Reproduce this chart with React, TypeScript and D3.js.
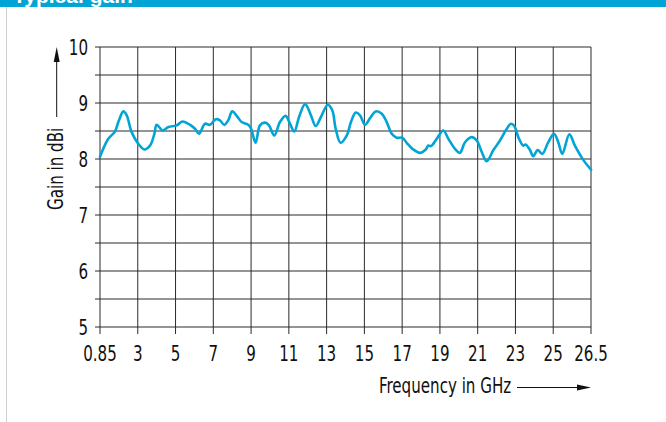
import React from 'react';
import * as d3 from 'd3';

// axis ticks (x ticks are evenly spaced on the chart, not linear in GHz)
const xTicks = [0.85, 3, 5, 7, 9, 11, 13, 15, 17, 19, 21, 23, 25, 26.5];
const yTicks = [5, 6, 7, 8, 9, 10];
const yGrid = [5, 5.5, 6, 6.5, 7, 7.5, 8, 8.5, 9, 9.5, 10];

// gain curve
const freq = [
  0.85, 1.32, 1.7, 1.93, 2.18, 2.37, 2.65, 3.03, 3.35, 3.65, 3.88, 4.0, 4.32, 4.62, 5.06, 5.36,
  5.77, 6.03, 6.24, 6.56, 6.82, 7.13, 7.35, 7.58, 7.79, 8.0, 8.24, 8.5, 8.85, 9.0, 9.24, 9.47,
  9.74, 9.95, 10.23, 10.53, 10.83, 11.06, 11.29, 11.54, 11.86, 12.17, 12.42, 12.7, 13.06, 13.3,
  13.48, 13.74, 14.07, 14.29, 14.54, 14.77, 15.03, 15.3, 15.6, 15.92, 16.18, 16.45, 16.71, 17.01,
  17.24, 17.59, 17.95, 18.25, 18.39, 18.53, 18.83, 19.18, 19.45, 19.8, 20.06, 20.33, 20.68, 20.95,
  21.21, 21.48, 21.83, 22.18, 22.54, 22.76, 22.94, 23.15, 23.41, 23.54, 23.77, 23.94, 24.18,
  24.42, 24.74, 25.03, 25.2, 25.36, 25.64, 25.86, 26.2, 26.5,
];
const gain = [
  8.04, 8.36, 8.49, 8.69, 8.85, 8.78, 8.48, 8.27, 8.17, 8.24, 8.45, 8.61, 8.51, 8.57, 8.6, 8.67,
  8.61, 8.54, 8.45, 8.63, 8.61, 8.71, 8.69, 8.61, 8.69, 8.85, 8.77, 8.66, 8.61, 8.54, 8.29, 8.6,
  8.65, 8.6, 8.42, 8.66, 8.77, 8.63, 8.49, 8.75, 8.98, 8.78, 8.59, 8.75, 8.97, 8.87,
  8.54, 8.29, 8.42, 8.66, 8.83, 8.78, 8.61, 8.73, 8.85, 8.81, 8.66, 8.45, 8.38, 8.38,
  8.29, 8.17, 8.11, 8.17, 8.24, 8.23, 8.36, 8.51, 8.36, 8.18, 8.11, 8.3, 8.39, 8.33,
  8.13, 7.96, 8.16, 8.33, 8.54, 8.63, 8.59, 8.39, 8.24, 8.26, 8.16, 8.05, 8.16,
  8.09, 8.3, 8.45, 8.3, 8.09, 8.44, 8.24, 7.98, 7.81,
];

const W = 666;
const H = 422;
const left = 100;
const right = 591;
const top = 47;
const bottom = 327;
const font = '"DejaVu Sans Condensed", "Liberation Sans Narrow", sans-serif';
const blue = '#00a5d6';
const gridColor = '#2a2a2a';
const squeeze = 0.8; // the original uses a condensed face

// condensed text: squeezed horizontally around its anchor point
function T({ x, y, anchor = 'start', rotate = 0, size = 21, children }: any) {
  return (
    <text
      transform={`translate(${x},${y}) rotate(${rotate}) scale(${squeeze},1)`}
      textAnchor={anchor}
      fontSize={size}
      fill="#111"
    >
      {children}
    </text>
  );
}

export default function App() {
  const x = d3
    .scaleLinear()
    .domain(xTicks)
    .range(xTicks.map((_, i) => left + (i * (right - left)) / (xTicks.length - 1)));
  const y = d3.scaleLinear().domain([5, 10]).range([bottom, top]);

  const pts: [number, number][] = freq.map((f, i) => [f, gain[i]]);
  const line = d3
    .line<[number, number]>()
    .x((d) => x(d[0]))
    .y((d) => y(d[1]))
    .curve(d3.curveCatmullRom.alpha(0.5));

  return (
    <svg
      width={W}
      height={H}
      style={{ position: 'absolute', left: 0, top: 0, background: '#fff' }}
      fontFamily={font}
    >
      {/* header band, cut off at the top */}
      <rect x={0} y={0} width={W} height={7} fill={blue} />
      <text x={13} y={3} fill="#fff" fontSize={21} fontWeight="bold" fontFamily='"Liberation Sans", sans-serif'>
        Typical gain
      </text>
      <line x1={6.5} x2={6.5} y1={7} y2={H} stroke="#d0d0d0" strokeWidth={1} />

      {/* horizontal grid + left ticks */}
      {yGrid.map((v) => (
        <line key={'h' + v} x1={left - 5} x2={right} y1={y(v)} y2={y(v)} stroke={gridColor} strokeWidth={1} />
      ))}
      {/* vertical grid + bottom ticks */}
      {xTicks.map((t) => (
        <line key={'v' + t} x1={x(t)} x2={x(t)} y1={top} y2={bottom + 7} stroke={gridColor} strokeWidth={1} />
      ))}

      {/* y tick labels */}
      {yTicks.map((v) => (
        <T key={'yl' + v} x={88} y={y(v) + 7.5} anchor="end">
          {v}
        </T>
      ))}
      {/* x tick labels */}
      {xTicks.map((t) => (
        <T key={'xl' + t} x={x(t)} y={361} anchor="middle">
          {t}
        </T>
      ))}

      {/* axis titles with arrows */}
      <T x={63} y={210} rotate={-90}>
        Gain in dBi
      </T>
      <line x1={56.7} x2={56.7} y1={117} y2={60} stroke="#111" strokeWidth={1} />
      <path d="M56.7,47 L53.7,62 L59.7,62 Z" fill="#111" />

      <T x={379} y={393}>
        Frequency in GHz
      </T>
      <line x1={517} x2={580} y1={387.5} y2={387.5} stroke="#111" strokeWidth={1} />
      <path d="M591,387.5 L577,384.5 L577,390.5 Z" fill="#111" />

      {/* gain curve */}
      <path d={line(pts) ?? ''} fill="none" stroke={blue} strokeWidth={2.6} strokeLinejoin="round" strokeLinecap="round" />
    </svg>
  );
}
